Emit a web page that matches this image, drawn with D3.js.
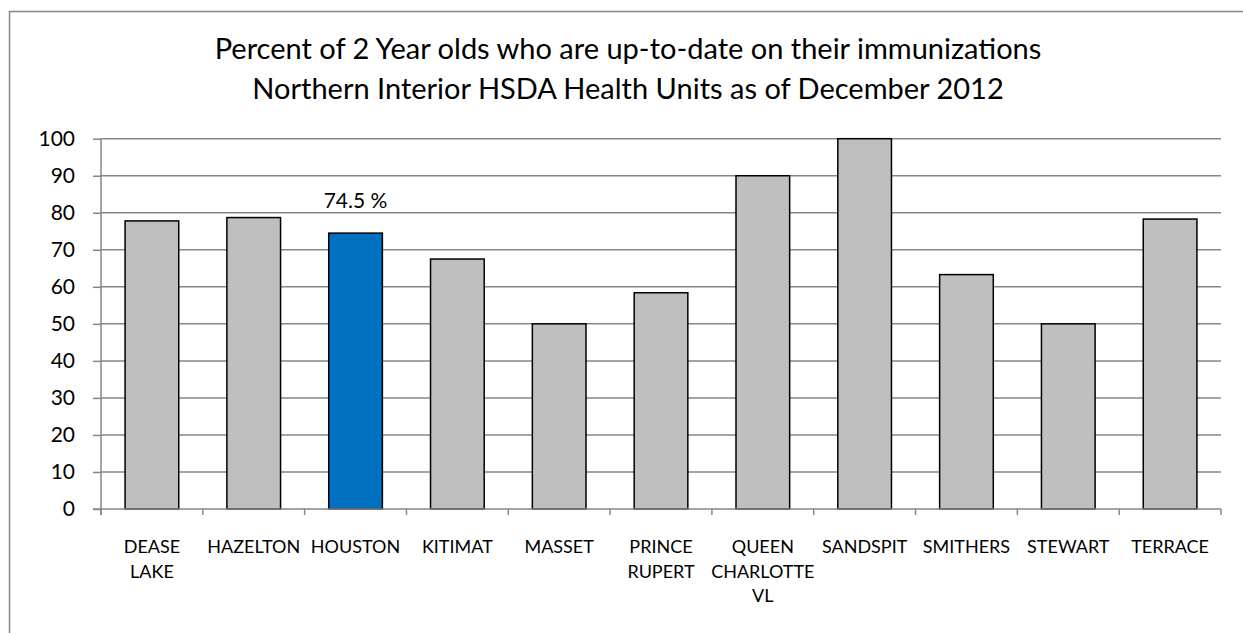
<!DOCTYPE html>
<html>
<head>
<meta charset="utf-8">
<script src="https://d3js.org/d3.v7.min.js"></script>
<style>
  body { margin: 0; background: #fff; }
  text { font-family: Lato, "Open Sans", sans-serif; fill: #000; }
</style>
</head>
<body>
<div id="chart"></div>
<script>
// data
var categories = ["DEASE LAKE", "HAZELTON", "HOUSTON", "KITIMAT", "MASSET", "PRINCE RUPERT",
                  "QUEEN CHARLOTTE VL", "SANDSPIT", "SMITHERS", "STEWART", "TERRACE"];
var values = [77.8, 78.7, 74.5, 67.5, 50, 58.4, 90, 100, 63.3, 50, 78.3];
var highlighted = "HOUSTON";
var yTicks = [0, 10, 20, 30, 40, 50, 60, 70, 80, 90, 100];
var titleLines = ["Percent of 2 Year olds who are up-to-date on their immunizations",
                  "Northern Interior HSDA Health Units as of December 2012"];

var W = 1243, H = 633;
var plotLeft = 101, plotRight = 1221, plotTop = 138.7, plotBottom = 509;
var gridColor = "#868686";

var svg = d3.select("#chart").append("svg")
    .attr("width", W).attr("height", H);

// chart area border (runs off the right and bottom of the picture)
svg.append("rect")
    .attr("x", 9.5).attr("y", 11.5)
    .attr("width", 1260).attr("height", 660)
    .attr("fill", "none").attr("stroke", gridColor).attr("stroke-width", 1.5);

svg.selectAll(".title").data(titleLines)
  .enter().append("text")
    .attr("class", "title")
    .attr("x", 628).attr("y", function (d, i) { return 59 + i * 40; })
    .attr("text-anchor", "middle")
    .style("font-size", "29px")
    .text(function (d) { return d; });

var x = d3.scaleBand().domain(categories).range([plotLeft, plotRight])
    .paddingInner(0.473).paddingOuter(0.2365);
var y = d3.scaleLinear().domain([0, 100]).range([plotBottom, plotTop]);

// gridlines
svg.append("g").selectAll("line").data(yTicks.slice(1))
  .enter().append("line")
    .attr("x1", plotLeft).attr("x2", plotRight)
    .attr("y1", function (d) { return y(d); }).attr("y2", function (d) { return y(d); })
    .attr("stroke", gridColor).attr("stroke-width", 1.5);

// y axis
var yAxis = svg.append("g")
    .attr("transform", "translate(" + plotLeft + ",0)")
    .call(d3.axisLeft(y).tickValues(yTicks).tickSize(8).tickPadding(18));
yAxis.select(".domain").remove();
yAxis.selectAll(".tick line").attr("stroke", gridColor).attr("stroke-width", 1.5);
yAxis.selectAll(".tick text").style("font-size", "21px").style("font-family", "Lato, sans-serif")
    .attr("fill", "#000");
svg.append("line")
    .attr("x1", plotLeft).attr("x2", plotLeft).attr("y1", plotTop).attr("y2", plotBottom + 6)
    .attr("stroke", gridColor).attr("stroke-width", 1.5);

// bars
svg.append("g").selectAll("rect").data(categories)
  .enter().append("rect")
    .attr("x", function (d) { return x(d); })
    .attr("width", x.bandwidth())
    .attr("y", function (d, i) { return y(values[i]); })
    .attr("height", function (d, i) { return plotBottom - y(values[i]); })
    .attr("fill", function (d) { return d === highlighted ? "#0070C0" : "#BFBFBF"; })
    .attr("stroke", "#000").attr("stroke-width", 1.5);

// x axis line and category boundary ticks
var gap = (x.step() - x.bandwidth()) / 2;
var bounds = categories.map(function (c) { return x(c) - gap; }).concat([plotRight]);
svg.append("line")
    .attr("x1", plotLeft - 8).attr("x2", plotRight).attr("y1", plotBottom).attr("y2", plotBottom)
    .attr("stroke", gridColor).attr("stroke-width", 1.5);
svg.append("g").selectAll("line").data(bounds)
  .enter().append("line")
    .attr("x1", function (d) { return d; }).attr("x2", function (d) { return d; })
    .attr("y1", plotBottom).attr("y2", plotBottom + 6)
    .attr("stroke", gridColor).attr("stroke-width", 1.5);

// category labels, one word per line
var labels = svg.append("g").selectAll("text").data(categories)
  .enter().append("text")
    .attr("x", function (d) { return x(d) + x.bandwidth() / 2; })
    .attr("y", 553)
    .attr("text-anchor", "middle")
    .style("font-size", "18px");
labels.selectAll("tspan").data(function (d) { return d.split(" "); })
  .enter().append("tspan")
    .attr("x", function () { return d3.select(this.parentNode).attr("x"); })
    .attr("dy", function (d, i) { return i ? 24.6 : 0; })
    .text(function (d) { return d; });

// value label on the highlighted bar
var hi = categories.indexOf(highlighted);
svg.append("text")
    .attr("x", x(highlighted) + x.bandwidth() / 2)
    .attr("y", y(values[hi]) - 25)
    .attr("text-anchor", "middle")
    .style("font-size", "21px")
    .text(values[hi] + " %");
</script>
</body>
</html>
